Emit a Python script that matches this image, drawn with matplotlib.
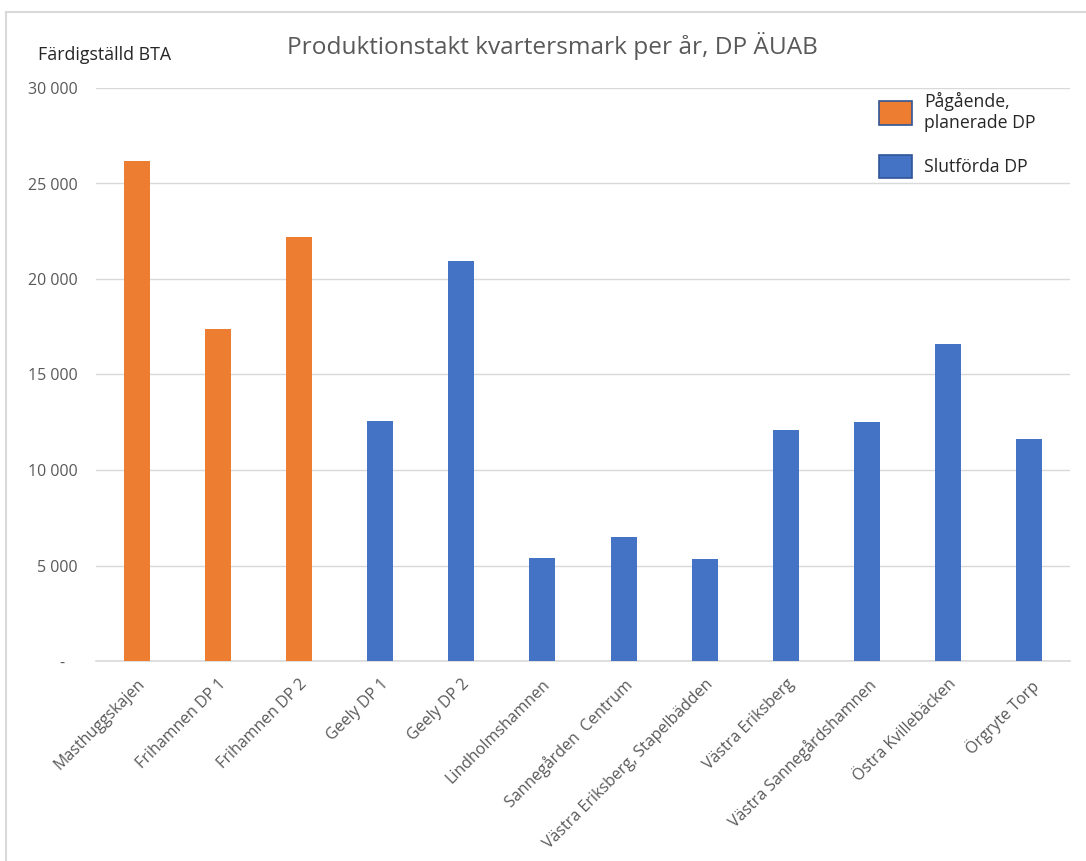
import matplotlib
matplotlib.use("Agg")
import matplotlib.pyplot as plt
from matplotlib.patches import Patch
from matplotlib.lines import Line2D
from matplotlib.ticker import FuncFormatter

categories = ["Masthuggskajen", "Frihamnen DP 1", "Frihamnen DP 2", "Geely DP 1", "Geely DP 2",
              "Lindholmshamnen", "Sannegården  Centrum", "Västra Eriksberg, Stapelbädden",
              "Västra Eriksberg", "Västra Sannegårdshamnen", "Östra Kvillebäcken", "Örgryte Torp"]
values = [26200, 17400, 22200, 12550, 20950, 5400, 6500, 5350, 12100, 12500, 16600, 11600]
status = ["Pågående", "Pågående", "Pågående", "Slutförda", "Slutförda", "Slutförda", "Slutförda",
          "Slutförda", "Slutförda", "Slutförda", "Slutförda", "Slutförda"]
legend_labels = ["Pågående,\nplanerade DP", "Slutförda DP"]

ORANGE = "#ED7D31"
BLUE = "#4472C4"
GRAY = "#595959"

plt.rcParams["font.family"] = ["Open Sans", "DejaVu Sans"]

fig = plt.figure(figsize=(10.86, 8.61), dpi=100)
ax = fig.add_axes([96/1086, 1-661/861, (1070-96)/1086, (661-88)/861])

colors = [ORANGE if s == "Pågående" else BLUE for s in status]
x = list(range(len(categories)))
ax.bar(x, values, width=0.32, color=colors, zorder=3)

ax.set_xlim(-0.5, len(categories)-0.5)
ax.set_ylim(0, 30000)
ax.set_yticks(range(0, 30001, 5000))

def fmt(v, pos):
    if v == 0:
        return "-   "
    return f"{int(v):,}".replace(",", " ")
ax.yaxis.set_major_formatter(FuncFormatter(fmt))
ax.grid(axis="y", color="#d9d9d9", linewidth=1, zorder=0)
for s in ["top", "right", "left"]:
    ax.spines[s].set_visible(False)
ax.spines["bottom"].set_color("#d9d9d9")
ax.spines["bottom"].set_linewidth(1.2)
ax.tick_params(axis="y", length=0, pad=13, labelsize=11.5, labelcolor=GRAY)
ax.tick_params(axis="x", length=0, pad=11, labelsize=11.5, labelcolor=GRAY)
ax.set_xticks(x)
ax.set_xticklabels(categories, rotation=45, ha="right", va="top", rotation_mode="anchor")

fig.text(552/1086, 1-46/861, "Produktionstakt kvartersmark per år, DP ÄUAB", ha="center", va="center",
         fontsize=17.6, color=GRAY)
fig.text(38/1086, 1-55/861, "Färdigställd BTA", ha="left", va="center", fontsize=12.8, color="#262626")

handles = [Patch(facecolor=ORANGE, edgecolor="#2F5597", linewidth=1.2),
           Patch(facecolor=BLUE, edgecolor="#2F5597", linewidth=1.2)]
leg = ax.legend(handles, legend_labels, loc="upper left", bbox_to_anchor=(863/1086, 1-76/861),
                bbox_transform=fig.transFigure, frameon=False, fontsize=12.7,
                handlelength=1.87, handleheight=1.65, handletextpad=0.7, labelspacing=1.3)
for t in leg.get_texts():
    t.set_color("#262626")
    t.set_multialignment("left")

# outer chart border
fig.add_artist(Line2D([6/1086, 6/1086], [0, 1-12/861], transform=fig.transFigure, color="#d9d9d9", linewidth=1.5))
fig.add_artist(Line2D([6/1086, 1], [1-12/861, 1-12/861], transform=fig.transFigure, color="#d9d9d9", linewidth=1.5))

fig.savefig("out.png", dpi=100)
